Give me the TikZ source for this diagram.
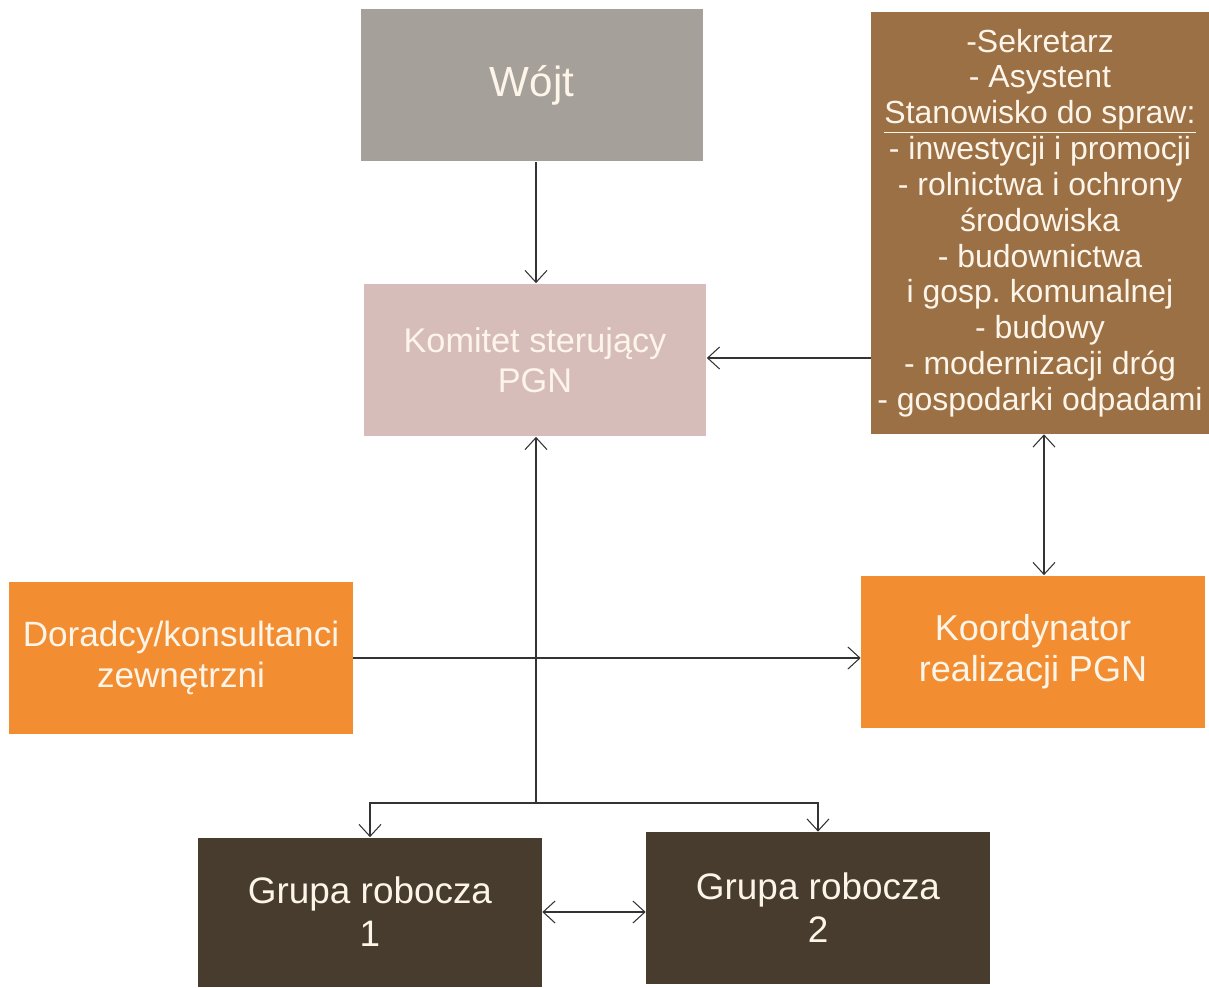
\documentclass[tikz,border=0pt]{standalone}
\usepackage{fontspec}
\setmainfont{Liberation Sans}
\usetikzlibrary{arrows.meta}
\definecolor{wojtgrey}{HTML}{A5A09A}
\definecolor{komitetpink}{HTML}{D6BDB9}
\definecolor{staffbrown}{HTML}{9B7045}
\definecolor{orangebox}{HTML}{F28E31}
\definecolor{grupadark}{HTML}{473C2D}
\definecolor{boxtext}{HTML}{FDF5E9}
\tikzset{
  orgbox/.style={text=boxtext, align=center, inner sep=0pt,
    minimum width=6.86cm, minimum height=3.06cm},
  link/.style={draw=black!80, line width=0.6pt,
    >={Straight Barb[length=2.4mm,width=4.4mm]}}
}
\begin{document}
\frenchspacing
\begin{tikzpicture}[x=0.02cm,y=-0.02cm]
\useasboundingbox (0,0) rectangle (1209,987);
\node[orgbox, fill=wojtgrey, font=\fontsize{24}{28}\selectfont] (wojt) at (532,85) {Wójt};
\node[orgbox, fill=komitetpink, font=\fontsize{19.5}{22.7}\selectfont] (komitet) at (535,360) {Komitet sterujący\\PGN};
\node[orgbox, fill=staffbrown, minimum width=6.76cm, minimum height=8.44cm,
  font=\fontsize{18.2}{20.4}\selectfont] (staff) at (1040,223)
  {-Sekretarz\\- Asystent\\\underline{Stanowisko do spraw:}\\- inwestycji i promocji\\- rolnictwa i ochrony\\środowiska\\- budownictwa\\i gosp. komunalnej\\- budowy\\- modernizacji dróg\\- gospodarki odpadami};
\node[orgbox, fill=orangebox, minimum width=6.88cm, font=\fontsize{20}{23.5}\selectfont] (doradcy) at (181,658) {Doradcy/konsultanci\\zewnętrzni};
\node[orgbox, fill=orangebox, minimum width=6.88cm, font=\fontsize{20.5}{23.5}\selectfont] (koord) at (1033,652) {Koordynator\\realizacji PGN};
\node[orgbox, fill=grupadark, minimum width=6.88cm, minimum height=2.98cm, font=\fontsize{21}{24.4}\selectfont] (grupa1) at (370,912) {Grupa robocza\\1};
\node[orgbox, fill=grupadark, minimum width=6.88cm, minimum height=3.04cm, font=\fontsize{21}{24.4}\selectfont] (grupa2) at (818,908) {Grupa robocza\\2};
\coordinate (split) at (536,803);
\draw[link,->] (wojt.south -| split) -- (komitet.north -| split);
\draw[link,->] (staff.west |- 0,358) -- (komitet.east |- 0,358);
\draw[link,<->] (staff.south -| 1044,0) -- (koord.north -| 1044,0);
\draw[link,->] (doradcy.east |- 0,658) -- (koord.west |- 0,658);
\draw[link,->] (split) -- (komitet.south -| split);
\draw[link,->] (split) -| (grupa1.north);
\draw[link,->] (split) -| (grupa2.north);
\draw[link,<->] (grupa1.east |- 0,912) -- (grupa2.west |- 0,912);
\end{tikzpicture}
\end{document}
